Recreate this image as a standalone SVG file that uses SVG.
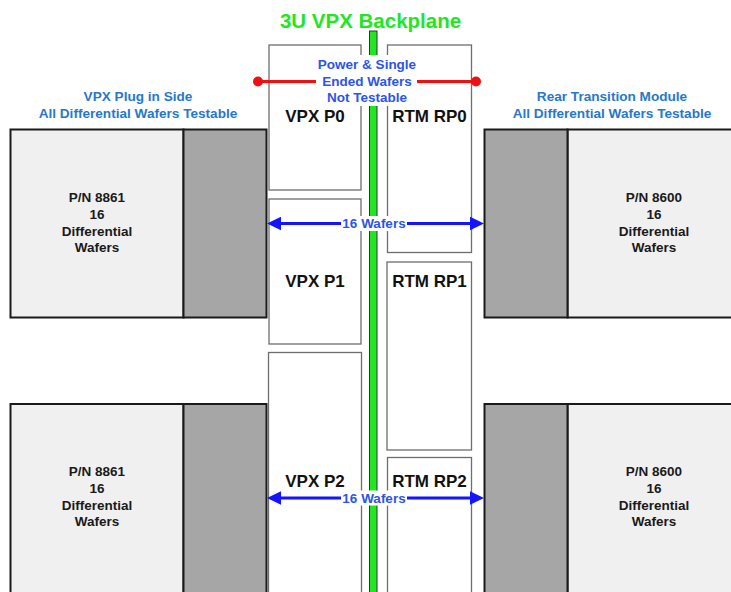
<svg xmlns="http://www.w3.org/2000/svg" width="731" height="592" viewBox="0 0 731 592">
<style>
text{font-family:"Liberation Sans",Arial,sans-serif;font-weight:bold;text-anchor:middle}
.hdr{fill:#2878c8;font-size:13.6px}
.pn{fill:#1a1a1a;font-size:13.5px}
.slot{fill:#ffffff;stroke:#6e6e6e;stroke-width:1.3}
.slotlbl{fill:#111111;font-size:17px}
.card{fill:#f0f0f0;stroke:#1a1a1a;stroke-width:2}
.conn{fill:#a6a6a6;stroke:#1a1a1a;stroke-width:2}
.blu{fill:#2c55e6;font-size:13.5px}
.arrow{stroke:#1414ff;stroke-width:3;fill:none}
.ah{fill:#1414ff}
</style>
<rect width="731" height="592" fill="#ffffff"/>

<g id="title">
<text x="370.5" y="28" style="fill:#22e622;font-size:20.5px">3U VPX Backplane</text>
</g>

<g id="backplane">
<rect x="369.5" y="31" width="7.5" height="570" fill="#22e622" stroke="#333333" stroke-width="1"/>
</g>

<g id="vpx-p0"><rect class="slot" x="269" y="45" width="92" height="145"/><text class="slotlbl" x="315" y="122">VPX P0</text></g>
<g id="vpx-p1"><rect class="slot" x="269" y="199" width="92" height="145"/><text class="slotlbl" x="315" y="287">VPX P1</text></g>
<g id="vpx-p2"><rect class="slot" x="268.5" y="352.5" width="93" height="250"/><text class="slotlbl" x="315" y="487">VPX P2</text></g>
<g id="rtm-rp0"><rect class="slot" x="387.5" y="45" width="84" height="207.5"/><text class="slotlbl" x="429.5" y="122">RTM RP0</text></g>
<g id="rtm-rp1"><rect class="slot" x="387" y="262" width="84.5" height="188"/><text class="slotlbl" x="429.5" y="287">RTM RP1</text></g>
<g id="rtm-rp2"><rect class="slot" x="387.5" y="457.5" width="84" height="150"/><text class="slotlbl" x="429.5" y="487">RTM RP2</text></g>

<g id="plug-in-label">
<text class="hdr" x="138" y="101">VPX Plug in Side</text>
<text class="hdr" x="138" y="117.5">All Differential Wafers Testable</text>
</g>
<g id="rtm-label">
<text class="hdr" x="612" y="101">Rear Transition Module</text>
<text class="hdr" x="612" y="117.5">All Differential Wafers Testable</text>
</g>

<g id="card-8861-top">
<rect class="card" x="10.5" y="129.5" width="173" height="188"/>
<rect class="conn" x="183.5" y="129.5" width="83" height="188"/>
<text class="pn" x="97" y="202">P/N 8861</text>
<text class="pn" x="97" y="219">16</text>
<text class="pn" x="97" y="236">Differential</text>
<text class="pn" x="97" y="252">Wafers</text>
</g>
<g id="card-8861-bottom">
<rect class="card" x="10.5" y="404" width="173" height="200"/>
<rect class="conn" x="183.5" y="404" width="83" height="200"/>
<text class="pn" x="97" y="476">P/N 8861</text>
<text class="pn" x="97" y="493">16</text>
<text class="pn" x="97" y="510">Differential</text>
<text class="pn" x="97" y="526">Wafers</text>
</g>
<g id="card-8600-top">
<rect class="card" x="567.5" y="129.5" width="175" height="188"/>
<rect class="conn" x="484.5" y="129.5" width="83" height="188"/>
<text class="pn" x="654" y="202">P/N 8600</text>
<text class="pn" x="654" y="219">16</text>
<text class="pn" x="654" y="236">Differential</text>
<text class="pn" x="654" y="252">Wafers</text>
</g>
<g id="card-8600-bottom">
<rect class="card" x="567.5" y="404" width="175" height="200"/>
<rect class="conn" x="484.5" y="404" width="83" height="200"/>
<text class="pn" x="654" y="476">P/N 8600</text>
<text class="pn" x="654" y="493">16</text>
<text class="pn" x="654" y="510">Differential</text>
<text class="pn" x="654" y="526">Wafers</text>
</g>

<g id="connectors">
<g id="power-wafers">
<line x1="258" y1="81.5" x2="476" y2="81.5" stroke="#ee1111" stroke-width="3"/>
<circle cx="258" cy="81.5" r="5" fill="#ee1111"/>
<circle cx="476" cy="81.5" r="5" fill="#ee1111"/>
<rect x="316" y="55" width="101" height="51" fill="#ffffff"/>
<text class="blu" x="367" y="69">Power &amp; Single</text>
<text class="blu" x="367" y="85.5">Ended Wafers</text>
<text class="blu" x="367" y="102">Not Testable</text>
</g>
<g id="wafers-top">
<line class="arrow" x1="279" y1="223.5" x2="472" y2="223.5"/>
<polygon class="ah" points="267,223.5 281,216.8 281,230.2"/>
<polygon class="ah" points="484,223.5 470,216.8 470,230.2"/>
<rect x="341" y="216" width="66" height="15" fill="#ffffff"/>
<text class="blu" x="374" y="228">16 Wafers</text>
</g>
<g id="wafers-bottom">
<line class="arrow" x1="279" y1="498" x2="472" y2="498"/>
<polygon class="ah" points="267,498 281,491.3 281,504.7"/>
<polygon class="ah" points="484,498 470,491.3 470,504.7"/>
<rect x="341" y="490.5" width="66" height="15" fill="#ffffff"/>
<text class="blu" x="374" y="502.5">16 Wafers</text>
</g>
</g>
</svg>
